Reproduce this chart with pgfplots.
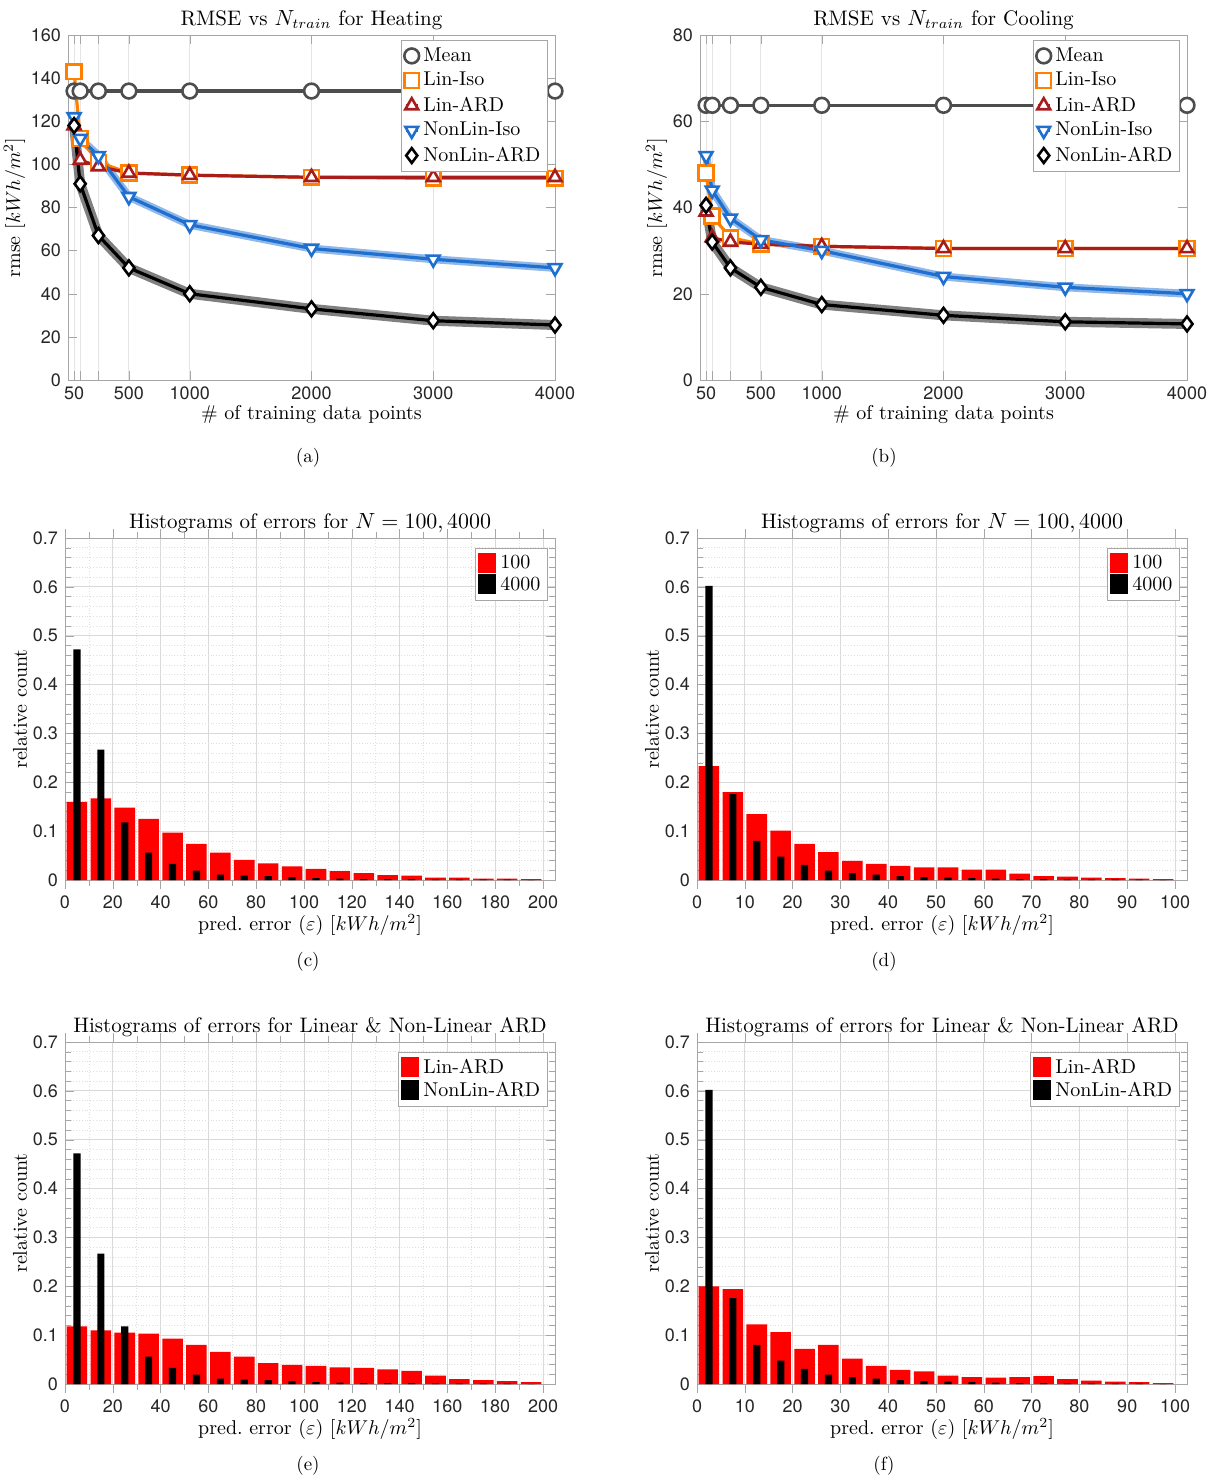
\documentclass[border=0pt]{standalone}
\usepackage{pgfplots}
\pgfplotsset{compat=1.18}
\usepackage{fontspec}
\newfontfamily\heros{TeX Gyre Heros}
\definecolor{cmean}{RGB}{77,77,77}
\definecolor{clin}{RGB}{255,128,0}
\definecolor{card}{RGB}{168,28,28}
\definecolor{cnli}{RGB}{31,111,208}
\pgfplotsset{
  base/.style={scale only axis, anchor=north west,
    font=\fontsize{10}{11}\selectfont,
    axis line style={gray!70}, tick style={gray!70},
    tick align=inside,
    /pgf/number format/assume math mode=true,
    ticklabel style={font=\heros\fontsize{9}{10}\selectfont, text=black!85},
    title style={yshift=-7pt, font=\fontsize{10.5}{12}\selectfont},
    legend style={font=\fontsize{10}{11}\selectfont, draw=gray!70, row sep=-1.5pt, inner sep=1.5pt},
    legend cell align=left},
  rm/.style={base, width=243.5pt, height=172.5pt, xmin=0, xmax=4000,
    xtick={50,100,250,500,1000,2000,3000,4000},
    xticklabels={50,,,500,1000,2000,3000,4000},
    xmajorgrids, major grid style={gray!20},
    scaled x ticks=false,
    xlabel={\# of training data points}, xlabel style={yshift=4pt},
    ylabel style={yshift=-4pt},
    legend style={at={(0.985,0.985)}, anchor=north east, row sep=0pt},
    legend image code/.code={\draw[#1,mark repeat=2,mark phase=2] plot coordinates {(0pt,0pt)(3pt,0pt)(6pt,0pt)};},
    every axis plot/.append style={line width=1.6pt, mark size=3.7pt}},
  hist/.style={base, width=245pt, height=171pt, ymin=0, ymax=0.7,
    ytick={0,0.1,...,0.7}, minor y tick num=4, minor x tick num=1,
    yticklabel style={/pgf/number format/fixed},
    grid=both, major grid style={gray!30}, minor grid style={gray!25,densely dotted},
    ybar,
    ylabel={relative count}, ylabel style={yshift=-4pt},
    xlabel={pred.\ error ($\varepsilon$) [$kWh/m^2$]}, xlabel style={yshift=4pt},
    legend style={at={(0.985,0.97)}, anchor=north east},
    legend image code/.code={\fill[#1] (0pt,-4.5pt) rectangle (9pt,5.5pt);}},
}
\tikzset{mk/.style={mark options={solid,line width=1.3pt,fill=white,#1}}}
\begin{document}
\begin{tikzpicture}
\useasboundingbox (0,0) rectangle (605.5pt,-739.5pt);
% (a)
\begin{axis}[rm, at={(34pt,-17.5pt)}, ymin=0, ymax=160, ytick={0,20,...,160},
  title={RMSE vs $N_{train}$ for Heating}, ylabel={rmse [$kWh/m^2$]}]
\addplot[cnli!50, line width=4pt, forget plot] coordinates {(50,122)(100,112)(250,104)(500,85)(1000,72)(2000,61)(3000,56)(4000,52)};
\addplot[gray, line width=5pt, forget plot] coordinates {(50,118)(100,91)(250,67)(500,52)(1000,40)(2000,33)(3000,27.5)(4000,25.5)};
\addplot[cmean, mark=*, mk={}] coordinates {(50,134)(100,134)(250,134)(500,134)(1000,134)(2000,134)(3000,134)(4000,134)};
\addplot[clin, mark=square*, mk={}] coordinates {(50,143)(100,112)(250,101)(500,96)(1000,95)(2000,94)(3000,93.5)(4000,93.5)};
\addplot[card, mark=triangle*, mk={}] coordinates {(50,118)(100,102)(250,99)(500,96)(1000,95)(2000,94)(3000,94)(4000,94)};
\addplot[cnli, mark=triangle*, mk={rotate=180}] coordinates {(50,122)(100,112)(250,104)(500,85)(1000,72)(2000,61)(3000,56)(4000,52)};
\addplot[black, mark=diamond*, mk={}] coordinates {(50,118)(100,91)(250,67)(500,52)(1000,40)(2000,33)(3000,27.5)(4000,25.5)};
\legend{Mean,Lin-Iso,Lin-ARD,NonLin-Iso,NonLin-ARD}
\end{axis}
% (b)
\begin{axis}[rm, at={(350pt,-17.5pt)}, ymin=0, ymax=80, ytick={0,20,...,80},
  title={RMSE vs $N_{train}$ for Cooling}, ylabel={rmse [$kWh/m^2$]}]
\addplot[cnli!50, line width=4pt, forget plot] coordinates {(50,52)(100,44)(250,37.5)(500,32.5)(1000,30)(2000,24)(3000,21.5)(4000,20)};
\addplot[gray, line width=5pt, forget plot] coordinates {(50,40.5)(100,32)(250,26)(500,21.5)(1000,17.5)(2000,15)(3000,13.5)(4000,13)};
\addplot[cmean, mark=*, mk={}] coordinates {(50,63.7)(100,63.7)(250,63.7)(500,63.7)(1000,63.7)(2000,63.7)(3000,63.7)(4000,63.7)};
\addplot[clin, mark=square*, mk={}] coordinates {(50,48)(100,38)(250,33)(500,31.5)(1000,31)(2000,30.5)(3000,30.5)(4000,30.5)};
\addplot[card, mark=triangle*, mk={}] coordinates {(50,39)(100,33)(250,32)(500,31.5)(1000,31)(2000,30.5)(3000,30.5)(4000,30.5)};
\addplot[cnli, mark=triangle*, mk={rotate=180}] coordinates {(50,52)(100,44)(250,37.5)(500,32.5)(1000,30)(2000,24)(3000,21.5)(4000,20)};
\addplot[black, mark=diamond*, mk={}] coordinates {(50,40.5)(100,32)(250,26)(500,21.5)(1000,17.5)(2000,15)(3000,13.5)(4000,13)};
\legend{Mean,Lin-Iso,Lin-ARD,NonLin-Iso,NonLin-ARD}
\end{axis}
% (c)
\begin{axis}[hist, at={(32.5pt,-269pt)}, xmin=0, xmax=205, xtick={0,20,...,200},
  title={Histograms of errors for $N=100,4000$}]
\addplot[fill=red, draw=none, bar width=8.6, bar shift=0] coordinates {(5,0.16)(15,0.167)(25,0.148)(35,0.125)(45,0.097)(55,0.074)(65,0.056)(75,0.041)(85,0.034)(95,0.028)(105,0.023)(115,0.018)(125,0.014)(135,0.010)(145,0.009)(155,0.005)(165,0.005)(175,0.003)(185,0.003)(195,0.002)};
\addplot[fill=black, draw=none, bar width=3, bar shift=0] coordinates {(5,0.472)(15,0.267)(25,0.118)(35,0.056)(45,0.033)(55,0.019)(65,0.011)(75,0.009)(85,0.008)(95,0.006)(105,0.004)(115,0.003)(125,0.002)(135,0.002)(145,0.002)(155,0.001)(165,0.001)(175,0.001)(185,0.001)(195,0.0)};
\legend{100,4000}
\end{axis}
% (d)
\begin{axis}[hist, at={(348.5pt,-269pt)}, xmin=0, xmax=102.5, xtick={0,10,...,100},
  minor x tick num=0, title={Histograms of errors for $N=100,4000$}]
\addplot[fill=red, draw=none, bar width=4.3, bar shift=0] coordinates {(2.5,0.233)(7.5,0.18)(12.5,0.135)(17.5,0.101)(22.5,0.074)(27.5,0.057)(32.5,0.039)(37.5,0.033)(42.5,0.029)(47.5,0.026)(52.5,0.026)(57.5,0.021)(62.5,0.021)(67.5,0.013)(72.5,0.008)(77.5,0.007)(82.5,0.005)(87.5,0.004)(92.5,0.003)(97.5,0.002)};
\addplot[fill=black, draw=none, bar width=1.5, bar shift=0] coordinates {(2.5,0.602)(7.5,0.176)(12.5,0.08)(17.5,0.048)(22.5,0.031)(27.5,0.019)(32.5,0.014)(37.5,0.011)(42.5,0.008)(47.5,0.006)(52.5,0.005)(57.5,0.004)(62.5,0.003)(67.5,0.002)(72.5,0.002)(77.5,0.001)(82.5,0.001)(87.5,0.001)(92.5,0.001)(97.5,0.0)};
\legend{100,4000}
\end{axis}
% (e)
\begin{axis}[hist, at={(32.5pt,-521pt)}, xmin=0, xmax=205, xtick={0,20,...,200},
  title={Histograms of errors for Linear \& Non-Linear ARD}]
\addplot[fill=red, draw=none, bar width=8.6, bar shift=0] coordinates {(5,0.118)(15,0.11)(25,0.105)(35,0.103)(45,0.093)(55,0.08)(65,0.066)(75,0.056)(85,0.043)(95,0.039)(105,0.037)(115,0.034)(125,0.033)(135,0.03)(145,0.027)(155,0.017)(165,0.01)(175,0.008)(185,0.006)(195,0.004)};
\addplot[fill=black, draw=none, bar width=3, bar shift=0] coordinates {(5,0.472)(15,0.267)(25,0.118)(35,0.056)(45,0.033)(55,0.019)(65,0.011)(75,0.009)(85,0.008)(95,0.006)(105,0.004)(115,0.003)(125,0.002)(135,0.002)(145,0.002)(155,0.001)(165,0.001)(175,0.001)(185,0.001)(195,0.0)};
\legend{Lin-ARD,NonLin-ARD}
\end{axis}
% (f)
\begin{axis}[hist, at={(348.5pt,-521pt)}, xmin=0, xmax=102.5, xtick={0,10,...,100},
  minor x tick num=0, title={Histograms of errors for Linear \& Non-Linear ARD}]
\addplot[fill=red, draw=none, bar width=4.3, bar shift=0] coordinates {(2.5,0.2)(7.5,0.194)(12.5,0.122)(17.5,0.106)(22.5,0.072)(27.5,0.08)(32.5,0.052)(37.5,0.037)(42.5,0.029)(47.5,0.026)(52.5,0.017)(57.5,0.014)(62.5,0.013)(67.5,0.014)(72.5,0.016)(77.5,0.01)(82.5,0.007)(87.5,0.005)(92.5,0.004)(97.5,0.002)};
\addplot[fill=black, draw=none, bar width=1.5, bar shift=0] coordinates {(2.5,0.602)(7.5,0.176)(12.5,0.08)(17.5,0.048)(22.5,0.031)(27.5,0.019)(32.5,0.014)(37.5,0.011)(42.5,0.008)(47.5,0.006)(52.5,0.005)(57.5,0.004)(62.5,0.003)(67.5,0.002)(72.5,0.002)(77.5,0.001)(82.5,0.001)(87.5,0.001)(92.5,0.001)(97.5,0.0)};
\legend{Lin-ARD,NonLin-ARD}
\end{axis}
\node[font=\fontsize{9.5}{10}\selectfont] at (154pt,-229pt) {(a)};
\node[font=\fontsize{9.5}{10}\selectfont] at (442pt,-229pt) {(b)};
\node[font=\fontsize{9.5}{10}\selectfont] at (154pt,-481pt) {(c)};
\node[font=\fontsize{9.5}{10}\selectfont] at (442pt,-481pt) {(d)};
\node[font=\fontsize{9.5}{10}\selectfont] at (154pt,-733pt) {(e)};
\node[font=\fontsize{9.5}{10}\selectfont] at (442pt,-733pt) {(f)};
\end{tikzpicture}
\end{document}
